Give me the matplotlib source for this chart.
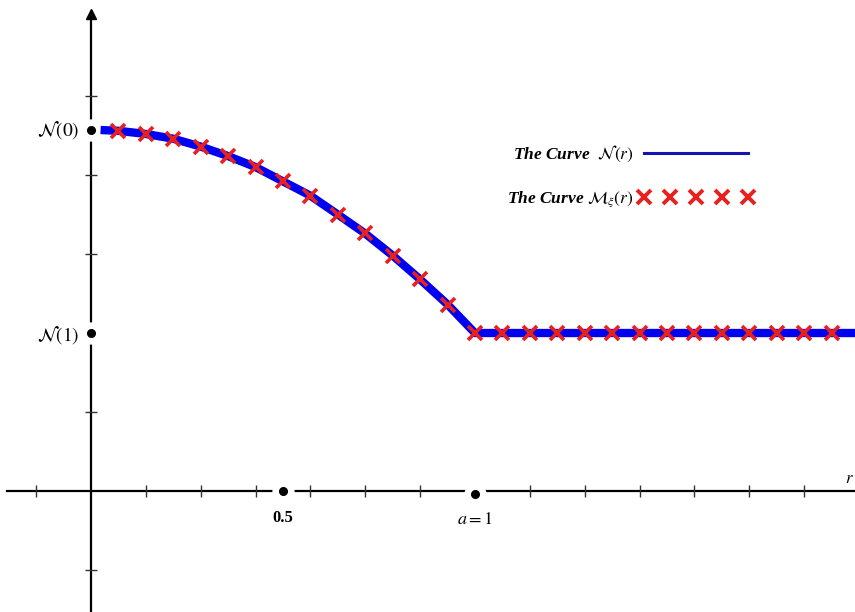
import matplotlib.pyplot as plt
from matplotlib.lines import Line2D

plt.rcParams['mathtext.fontset'] = 'stix'

r_curve = [0.025, 0.071, 0.143, 0.214, 0.286, 0.357, 0.429, 0.500, 0.571,
           0.643, 0.714, 0.786, 0.857, 0.929, 1.000, 1.990]
n_curve = [2.285, 2.28, 2.26, 2.23, 2.18, 2.12, 2.05, 1.96, 1.87,
           1.75, 1.63, 1.49, 1.34, 1.18, 1.00, 1.00]

r_marks = [0.071, 0.143, 0.214, 0.286, 0.357, 0.429, 0.500, 0.571, 0.643,
           0.714, 0.786, 0.857, 0.929, 1.000, 1.071, 1.143, 1.214, 1.286,
           1.357, 1.429, 1.500, 1.571, 1.643, 1.714, 1.786, 1.857, 1.929]
m_marks = [2.28, 2.26, 2.23, 2.18, 2.12, 2.05, 1.96, 1.87, 1.75,
           1.63, 1.49, 1.34, 1.18, 1.00, 1.00, 1.00, 1.00, 1.00,
           1.00, 1.00, 1.00, 1.00, 1.00, 1.00, 1.00, 1.00, 1.00]

x_ticks = [-0.143, 0.143, 0.286, 0.429, 0.571, 0.714, 0.857,
           1.143, 1.286, 1.429, 1.571, 1.714, 1.857]
y_ticks = [-0.5, 0.5, 1.5, 2.0, 2.5]
n0, n1 = 2.285, 1.0

fig = plt.figure(figsize=(8.55, 6.12), dpi=100)
ax = fig.add_axes([0, 0, 1, 1])
ax.set_xlim(-0.237, 1.990)
ax.set_ylim(-0.766, 3.108)
ax.axis('off')

# axes through the origin
ax.plot([-0.219, 1.990], [0, 0], color='black', lw=1.6, zorder=1)
ax.plot([0, 0], [-0.766, 3.0], color='black', lw=1.6, zorder=1)
ax.plot([0], [3.02], marker='^', color='black', ms=7, zorder=2)
ax.plot(x_ticks, [0] * len(x_ticks), ls='none', marker='|', color='#333333',
        ms=9, mew=1.0, zorder=2)
ax.plot([0] * len(y_ticks), y_ticks, ls='none', marker='_', color='#333333',
        ms=9, mew=1.0, zorder=2)

# labelled points with a white gap around them
dot_x = [0.5, 1.0, 0, 0]
dot_y = [0, -0.02, n0, n1]
ax.plot(dot_x, dot_y, ls='none', marker='o', color='white', ms=15, zorder=3)
ax.plot(dot_x, dot_y, ls='none', marker='o', color='black', ms=5.5, zorder=3.5)

ax.text(0.5, -0.17, '0.5', ha='center', va='center', fontsize=12,
        family='Liberation Serif', fontweight='bold')
ax.text(1.0, -0.18, '$a = 1$', ha='center', va='center', fontsize=13)
ax.text(-0.03, n0, r'$\mathcal{N}(0)$', ha='right', va='center', fontsize=14)
ax.text(-0.03, n1 - 0.01, r'$\mathcal{N}(1)$', ha='right', va='center', fontsize=14)
ax.text(1.988, 0.08, '$r$', ha='right', va='center', fontsize=12)

# curves
ax.plot(r_curve, n_curve, color='#0000f0', lw=6, solid_capstyle='butt', zorder=4)
ax.plot(r_marks, m_marks, ls='none', marker='x', color='#e8201e', ms=10,
        mew=2.6, zorder=5)

handles = [Line2D([], [], color='#1414b4', lw=2.2),
           Line2D([], [], ls='none', marker='x', color='#e8201e', ms=10, mew=2.8)]
labels = [r'The Curve  $\mathcal{N}(r)$', r'The Curve $\mathcal{M}_{\xi}(r)$']
ax.legend(handles, labels, loc='upper left', bbox_to_anchor=(0.575, 0.79),
          frameon=False, markerfirst=False, numpoints=5, handlelength=6.6,
          handletextpad=0.3, labelspacing=1.45,
          prop=dict(family='Liberation Serif', weight='bold', style='italic', size=12.5))

fig.savefig('out.png', dpi=100)
